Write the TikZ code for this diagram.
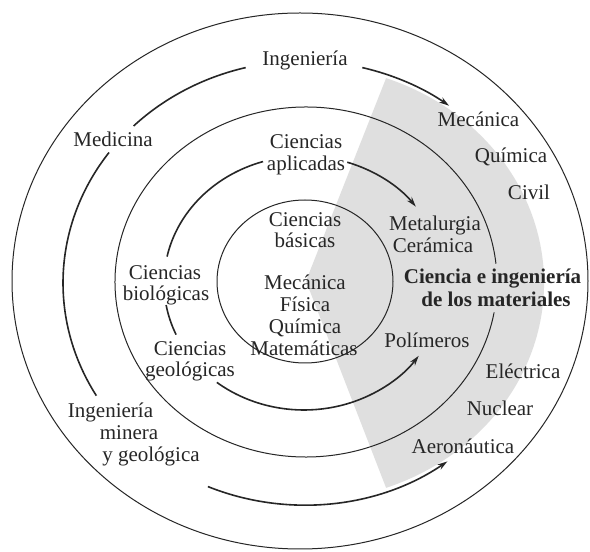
\documentclass[tikz,border=0pt]{standalone}
\usepackage{fontspec}
\setmainfont{Liberation Serif}
\usetikzlibrary{arrows.meta}
\begin{document}
\begin{tikzpicture}[x=1pt,y=1pt,
  lbl/.style={anchor=base, inner sep=0pt, font=\fontsize{21}{22}\selectfont, text=black!85},
  boldlbl/.style={lbl, font=\fontsize{21}{22}\selectfont\bfseries},
  ring/.style={line width=1pt, draw=black!85},
  flow/.style={line width=1.6pt, draw=black!85},
  flowarr/.style={flow, -{Stealth[length=10pt,width=6pt]}}]
\useasboundingbox (0,0) rectangle (590,552);
\fill[white] (0,0) rectangle (590,552);
% shaded sector
\fill[gray!25] (306,271) -- ([shift={(304,269)}]70:240 and 218)
  arc[start angle=70,end angle=-70,x radius=240,y radius=218] -- cycle;
% rings
\draw[ring] (300,271) ellipse[x radius=288,y radius=268];
\draw[ring] ([shift={(306,270)}]6:191 and 175) arc[start angle=6,end angle=350,x radius=191,y radius=175];
\draw[ring] (305,270.5) ellipse[x radius=88,y radius=81.5];
% outer flow ring
\draw[flow] ([shift={(304,269)}]135:241 and 222) arc[start angle=135,end angle=104,x radius=241,y radius=222];
\draw[flowarr] ([shift={(304,269)}]76:241 and 222) arc[start angle=76,end angle=53,x radius=241,y radius=222];
\draw[flow] ([shift={(304,269)}]144:241 and 222) arc[start angle=144,end angle=210.5,x radius=241,y radius=222];
\draw[flowarr] ([shift={(304,269)}]246.5:241 and 222) arc[start angle=246.5,end angle=306.5,x radius=241,y radius=222];
% inner flow ring
\draw[flow] ([shift={(304,269)}]168:140 and 127) arc[start angle=168,end angle=107,x radius=140,y radius=127];
\draw[flowarr] ([shift={(304,269)}]72:140 and 127) arc[start angle=72,end angle=37,x radius=140,y radius=127];
\draw[flow] ([shift={(304,269)}]190:140 and 127) arc[start angle=190,end angle=204,x radius=140,y radius=127];
\draw[flowarr] ([shift={(304,269)}]231.5:140 and 127) arc[start angle=231.5,end angle=325,x radius=140,y radius=127];
% labels
\node[lbl] (ing) at (305,486) {Ingeniería};
\node[lbl] (mece) at (478.5,425) {Mecánica};
\node[lbl] (quie) at (511,389) {Química};
\node[lbl] (civ) at (529,352) {Civil};
\node[lbl] (med) at (113,405) {Medicina};
\node[lbl] (apl1) at (306,403) {Ciencias};
\node[lbl] (apl2) at (306,381) {aplicadas};
\node[lbl] (bas1) at (305,325) {Ciencias};
\node[lbl] (bas2) at (305,304) {básicas};
\node[lbl] (met) at (435,321) {Metalurgia};
\node[lbl] (cer) at (433,299) {Cerámica};
\node[lbl] (bio1) at (165,272) {Ciencias};
\node[lbl] (bio2) at (166,251) {biológicas};
\node[lbl] (mec) at (305,262) {Mecánica};
\node[lbl] (fis) at (305,240) {Física};
\node[lbl] (qui) at (305,218) {Química};
\node[lbl] (mat) at (304,196) {Matemáticas};
\node[boldlbl] (cim1) at (492.5,268) {Ciencia e ingeniería};
\node[boldlbl] (cim2) at (496,245) {de los materiales};
\node[lbl] (pol) at (427,204) {Polímeros};
\node[lbl] (geo1) at (190,196) {Ciencias};
\node[lbl] (geo2) at (190,175) {geológicas};
\node[lbl] (ele) at (523,173) {Eléctrica};
\node[lbl] (nuc) at (500,136) {Nuclear};
\node[lbl] (aer) at (463,98) {Aeronáutica};
\node[lbl] (img1) at (110.5,134) {Ingeniería};
\node[lbl] (img2) at (129,112) {minera};
\node[lbl] (img3) at (151,90) {y geológica};
\end{tikzpicture}
\end{document}
